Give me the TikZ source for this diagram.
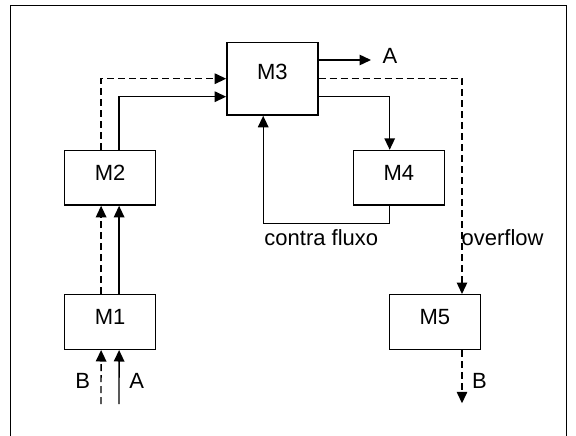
\documentclass[tikz,border=0pt]{standalone}
\usepackage{fontspec}
\setmainfont{Liberation Sans}
\usetikzlibrary{arrows.meta,calc}
\begin{document}
\begin{tikzpicture}[x=1pt,y=-1pt,
  every node/.style={font=\fontsize{22}{26}\selectfont},
  box/.style={draw,line width=1.4pt,rectangle,minimum width=91pt,minimum height=54.6pt,inner sep=0pt,text height=16pt,text depth=11pt},
  tallbox/.style={box,minimum height=72.7pt,text depth=15pt},
  conn/.style={line width=1.4pt,-{Triangle[length=11.5pt,width=10.5pt]}},
  dconn/.style={conn,dash pattern=on 7pt off 4pt},
  lbl/.style={inner sep=0pt}]
\useasboundingbox (0,0) rectangle (576,436);
\draw[line width=1pt] (10.5,440) -- (10.5,6) -- (566,6) -- (566,440);
\node[box] (M1) at (110.1,322) {M1};
\node[box] (M2) at (110.1,177.8) {M2};
\node[tallbox] (M3) at (272.4,78.7) {M3};
\node[box] (M4) at (398.9,177.8) {M4};
\node[box] (M5) at (434.8,322) {M5};
\node[lbl] (lA1) at (136.7,380.7) {A};
\node[lbl] (lB1) at (82.7,380.7) {B};
\node[lbl] (lA3) at (390,56) {A};
\node[lbl] (lB5) at (479.5,380.7) {B};
\node[lbl] (cf) at (321.3,237.3) {contra fluxo};
\node[lbl,anchor=west] (ov) at (461.5,237.3) {overflow};
\coordinate (inA) at (119,404);
\coordinate (inB) at (101,404);
\coordinate (outA) at (371,60);
\coordinate (outB) at (462,403.3);
% inputs to M1
\draw[conn] (inA) -- ([xshift=9pt]M1.south);
\draw[dconn] (inB) -- ([xshift=-9pt]M1.south);
% M1 -> M2
\draw[conn] ([xshift=9pt]M1.north) -- ([xshift=9pt]M2.south);
\draw[dconn] ([xshift=-9pt]M1.north) -- ([xshift=-9pt]M2.south);
% M2 -> M3
\draw[conn] ([xshift=9pt]M2.north) |- ([yshift=-18pt]M3.west);
\draw[dconn] ([xshift=-9pt]M2.north) |- (M3.west);
% M3 -> A
\draw[conn] ([yshift=18.7pt]M3.east) -- (outA);
% M3 -> M4
\draw[conn] ([yshift=-18pt]M3.east) -| ([xshift=-9.2pt]M4.north);
% M4 -> M3 (contra fluxo)
\draw[conn] ([xshift=-9.2pt]M4.south) -- ++(0,17.7) -| ([xshift=-9.2pt]M3.south);
% M3 -> M5 overflow
\draw[dconn] (M3.east) -| ([xshift=27.2pt]M5.north);
% M5 -> B
\draw[dconn] ([xshift=27.2pt]M5.south) -- (outB);
\end{tikzpicture}
\end{document}
